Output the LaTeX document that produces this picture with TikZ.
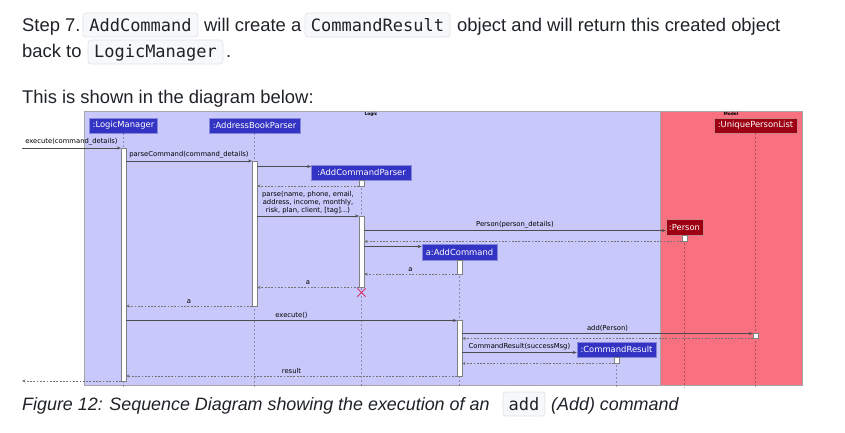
\documentclass[tikz,border=0pt]{standalone}
\usepackage{fontspec}
\setmainfont{Liberation Sans}
\newfontfamily\umlfont{DejaVu Sans}
\newfontfamily\codefont{DejaVu Sans Mono}
\usetikzlibrary{arrows.meta,fit}
\definecolor{logicC}{HTML}{3333C4}
\definecolor{logicT}{HTML}{C8C8FA}
\definecolor{modelC}{HTML}{9D0012}
\definecolor{modelT}{HTML}{F97181}
\definecolor{txt}{HTML}{1F2328}
\definecolor{codebg}{HTML}{F6F8FA}
\definecolor{codebd}{HTML}{E1E4E8}
\definecolor{xcol}{HTML}{D6336C}
\tikzset{
  body/.style={font=\fontsize{18.4}{22}\selectfont, text=txt, inner sep=0, anchor=base west},
  capt/.style={font=\itshape\fontsize{17.9}{22}\selectfont, text=txt, inner sep=0, anchor=base west},
  codebox/.style={draw=codebd, fill=codebg, rounded corners=3pt, line width=0.7pt, inner sep=0},
  codetext/.style={font=\codefont\fontsize{17}{20}\selectfont, text=txt, inner sep=0, anchor=base},
  lpart/.style={fill=logicC, draw=logicC!60!white, line width=0.5pt, text=white, font=\umlfont\fontsize{8.4}{10}\selectfont, inner sep=0},
  mpart/.style={fill=modelC, draw=modelC!50!white, line width=0.5pt, text=white, font=\umlfont\fontsize{8.4}{10}\selectfont, inner sep=0},
  act/.style={draw=black!50, fill=white, line width=0.5pt, inner sep=0},
  life/.style={draw=black, draw opacity=0.3, dash pattern=on 2pt off 2pt, line width=0.5pt},
  msg/.style={draw=black!70, line width=0.55pt, -{Stealth[length=4pt,width=3pt]}},
  ret/.style={draw=black!55, line width=0.5pt, dash pattern=on 1.8pt off 1.5pt, -{Stealth[length=3.5pt,width=3pt]}},
  mlab/.style={font=\umlfont\fontsize{6.8}{8}\selectfont, inner sep=0, anchor=base, text=black},
  grplab/.style={font=\umlfont\bfseries\fontsize{4.3}{5}\selectfont, inner sep=0, anchor=base, text=black},
}
\begin{document}
\begin{tikzpicture}[x=1pt,y=-1pt]
\useasboundingbox (0,0) rectangle (845,433);
\fill[white] (0,0) rectangle (845,433);

% ---------- top text ----------
\node[body] (s1) at (22,32) {Step 7.};
\node[codebox, fit={(83,13)(198,37)}] (cb1) {};
\node[codetext] at (140.5,32) {AddCommand};
\node[body] (s2) at (204,32) {will create a};
\node[codebox, fit={(305,13)(450,37)}] (cb2) {};
\node[codetext] at (377.5,32) {CommandResult};
\node[body] (s3) at (457,32) {object and will return this created object};
\node[body] (s4) at (22,58) {back to};
\node[codebox, fit={(88,40)(223,64)}] (cb3) {};
\node[codetext] at (155.5,58) {LogicManager};
\node[body] (s5) at (226,58) {.};
\node[body] (s6) at (22,103) {This is shown in the diagram below:};

% ---------- group boxes ----------
\fill[logicT] (84,111) rectangle (660.5,385.5);
\fill[modelT] (660.5,111) rectangle (802,385.5);
\draw[black!35, line width=0.6pt] (84,111) rectangle (802,385.5);
\draw[black!35, line width=0.8pt] (660.5,111) -- (660.5,385.5);
\node[grplab] (glogic) at (371,115.5) {Logic};
\node[grplab] (gmodel) at (731,115.5) {Model};

% ---------- participants ----------
\node[lpart, minimum width=68, minimum height=15] (lm) at (123.5,125.5) {:LogicManager};
\node[lpart, minimum width=91, minimum height=15] (abp) at (254.5,125.5) {:AddressBookParser};
\node[lpart, minimum width=100, minimum height=15] (acp) at (361.5,172.5) {:AddCommandParser};
\node[lpart, minimum width=75, minimum height=16] (ac) at (459.5,252) {a:AddCommand};
\node[mpart, minimum width=37, minimum height=16] (pp) at (684.5,227) {:Person};
\node[mpart, minimum width=83, minimum height=15] (upl) at (755.5,125.5) {:UniquePersonList};
\node[lpart, minimum width=79, minimum height=15] (cr) at (616.5,349.5) {:CommandResult};

% ---------- lifelines ----------
\coordinate (bot) at (0,387.5);
\draw[life] (lm.south) -- (lm.south |- bot);
\draw[life] (abp.south) -- (abp.south |- bot);
\draw[life] (acp.south) -- (acp.south |- bot);
\draw[life] (ac.south) -- (ac.south |- bot);
\draw[life] (pp.south) -- (pp.south |- bot);
\draw[life] (upl.south) -- (upl.south |- bot);
\draw[life] (cr.south) -- (cr.south |- bot);

% ---------- activations ----------
\node[act, fit={(121.2,148)(125.8,381)}] (lmA) {};
\node[act, fit={(252.2,161)(256.8,306)}] (abpA) {};
\node[act, fit={(359.2,180)(363.8,186)}] (acpA1) {};
\node[act, fit={(359.2,216)(363.8,287.5)}] (acpA2) {};
\node[act, fit={(457.2,260)(461.8,274)}] (acA1) {};
\node[act, fit={(457.2,320)(461.8,376)}] (acA2) {};
\node[act, fit={(682.2,235)(686.8,241.5)}] (pA) {};
\node[act, fit={(753.2,333)(757.8,338.5)}] (uplA) {};
\node[act, fit={(614.2,357)(618.8,363.5)}] (crA) {};

% destroy mark
\node[inner sep=0, minimum size=8] (xd) at (361.5,292.5) {};
\draw[xcol, line width=0.75pt] (xd.north west) -- (xd.south east) (xd.north east) -- (xd.south west);

% ---------- messages ----------
\coordinate (inS) at (22,148);
\coordinate (outE) at (22,381);

\draw[msg] (inS) -- (lmA.west |- inS)
  node[mlab, midway, above=2.2pt] {execute(command\_details)};
\draw[msg] (lmA.east |- 0,161) -- (abpA.west |- 0,161)
  node[mlab, midway, above=2.2pt] {parseCommand(command\_details)};
\draw[msg] (abpA.east |- 0,166.5) -- (acp.west |- 0,166.5);
\draw[ret] (acpA1.west |- 0,186) -- (abpA.east |- 0,186);
\draw[msg] (abpA.east |- 0,216) -- (acpA2.west |- 0,216)
  node[midway, above=1.8pt, inner sep=0, align=center, font=\umlfont\fontsize{6.8}{8}\selectfont] {parse(name, phone, email,\\address, income, monthly,\\risk, plan, client, [tag]...)};
\draw[msg] (acpA2.east |- 0,230.5) -- (pp.west |- 0,230.5)
  node[mlab, midway, above=2.2pt] {Person(person\_details)};
\draw[ret] (pA.west |- 0,241.5) -- (acpA2.east |- 0,241.5);
\draw[msg] (acpA2.east |- 0,246.5) -- (ac.west |- 0,246.5);
\draw[ret] (acA1.west |- 0,274) -- (acpA2.east |- 0,274)
  node[mlab, midway, above=2.2pt] {a};
\draw[ret] (acpA2.west |- 0,287.5) -- (abpA.east |- 0,287.5)
  node[mlab, midway, above=2.2pt] {a};
\draw[ret] (abpA.west |- 0,306) -- (lmA.east |- 0,306)
  node[mlab, midway, above=2.2pt] {a};
\draw[msg] (lmA.east |- 0,320.5) -- (acA2.west |- 0,320.5)
  node[mlab, midway, above=2.2pt] {execute()};
\draw[msg] (acA2.east |- 0,333.5) -- (uplA.west |- 0,333.5)
  node[mlab, midway, above=2.2pt] {add(Person)};
\draw[ret] (uplA.west |- 0,338.5) -- (acA2.east |- 0,338.5);
\draw[msg] (acA2.east |- 0,352.5) -- (cr.west |- 0,352.5)
  node[mlab, midway, above=2.2pt] {CommandResult(successMsg)};
\draw[ret] (crA.west |- 0,363.5) -- (acA2.east |- 0,363.5);
\draw[ret] (acA2.west |- 0,376) -- (lmA.east |- 0,376)
  node[mlab, midway, above=2.2pt] {result};
\draw[ret] (lmA.west |- outE) -- (outE);

% ---------- caption ----------
\node[capt] (c1) at (22,410) {Figure 12: Sequence Diagram showing the execution of an};
\node[codebox, fit={(503,392)(545,416)}] (cb4) {};
\node[codetext] at (524,410) {add};
\node[capt] (c2) at (551,410) {(Add) command};
\end{tikzpicture}
\end{document}
